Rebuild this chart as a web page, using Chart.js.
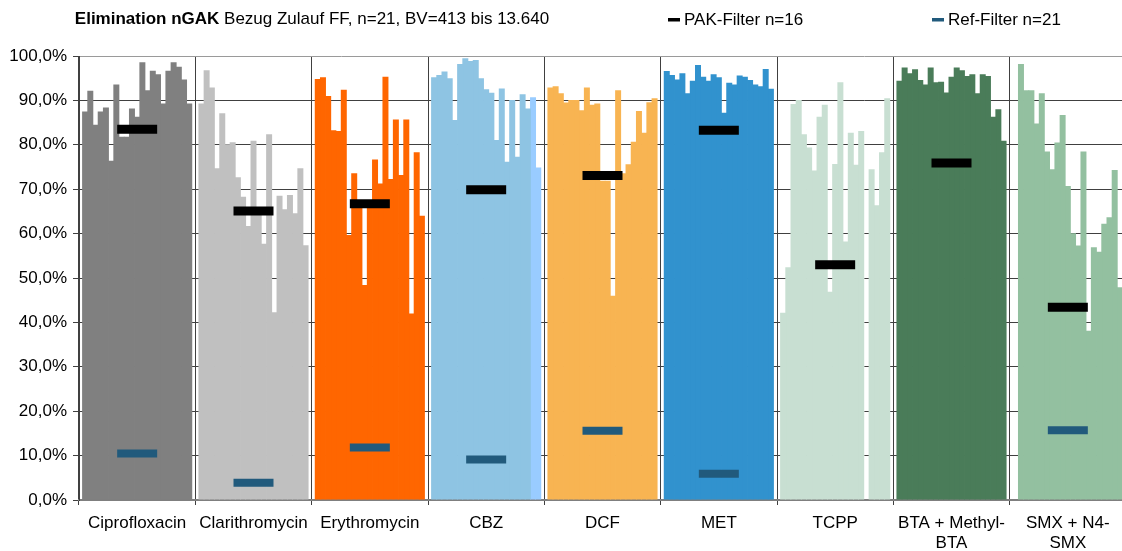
<!DOCTYPE html>
<html lang="de">
<head>
    <meta charset="UTF-8">
    <title>Elimination nGAK</title>
    <script src="https://cdn.jsdelivr.net/npm/chart.js@4/dist/chart.umd.min.js"></script>
    <style>
        html, body { margin: 0; padding: 0; background: #fff; overflow: hidden; }
        canvas { display: block; }
    </style>
</head>
<body>
    <canvas id="chart" width="1126" height="551"></canvas>
    <script>
        // categories (x axis)
        const labels = ["Ciprofloxacin", "Clarithromycin", "Erythromycin", "CBZ", "DCF", "MET", "TCPP",
                        ["BTA + Methyl-", "BTA"], ["SMX + N4-", "SMX"]];

        // 21 single samples per substance, elimination in %
        const cipro = [87.5, 92.2, 84.5, 87.5, 88.4, 76.4, 93.6, 81.8, 81.8, 88.2, 86.3, 98.6, 92.3, 96.7, 95.9, 89.3, 96.7, 98.6, 97.6, 94.7, 89.3];
        const clari = [89.3, 96.8, 92.9, 74.7, 87.1, 80.1, 80.6, 72.7, 68.3, 61.7, 80.9, 65.0, 57.7, 82.4, 42.3, 68.5, 65.5, 68.7, 64.6, 74.7, 57.4];
        const ery   = [94.8, 95.2, 91.0, 83.3, 83.1, 92.4, 59.7, 73.6, 66.5, 48.4, 67.0, 76.7, 71.3, 95.3, 72.3, 85.7, 73.2, 85.7, 42.0, 78.3, 64.0];
        const cbz   = [95.2, 95.7, 96.5, 95.0, 85.6, 98.2, 99.5, 98.9, 99.1, 95.0, 92.5, 91.7, 81.1, 92.7, 76.2, 90.1, 77.3, 91.4, 88.2, 90.7, 74.9];
        const dcf   = [92.9, 93.2, 91.6, 89.5, 90.1, 90.1, 87.8, 92.9, 89.0, 89.3, 71.9, 71.9, 46.0, 92.3, 73.6, 75.6, 80.7, 87.6, 82.7, 89.6, 90.5];
        const met   = [96.6, 95.7, 94.7, 96.1, 91.6, 94.4, 98.0, 95.3, 94.4, 95.9, 95.2, 87.2, 94.0, 93.6, 95.6, 95.3, 94.6, 93.6, 93.2, 97.1, 92.6];
        const tcpp  = [42.2, 52.4, 89.2, 90.1, 82.4, 79.4, 74.2, 86.3, 89.0, 46.9, 75.7, 94.1, 58.2, 82.7, 75.5, 83.1, null, 74.5, 66.4, 78.3, 90.5];
        const bta   = [94.4, 97.4, 96.1, 97.0, 94.6, 93.6, 97.4, 94.1, 94.2, 91.8, 95.3, 97.4, 96.8, 95.5, 95.9, 91.6, 95.9, 95.5, 86.3, 88.0, 80.9];
        const smx   = [null, 98.2, 92.3, 92.3, 84.8, 91.6, 78.5, 74.5, 80.5, 86.7, 70.7, 60.1, 57.3, 78.5, 38.1, 56.9, 55.9, 62.2, 63.7, 74.3, 47.9];

        // means of the two filters
        const pak = [83.5, 65.1, 66.7, 69.9, 73.1, 83.3, 53.0, 75.9, 43.4];
        const ref = [10.5, 3.9, 11.8, 9.1, 15.6, 5.9, null, null, 15.7];

        const colors = ["#808080", "#c0c0c0", "#ff6600", "#8ec4e3", "#f8b452", "#3192ce", "#c8dfd2", "#4a7c59", "#93c0a0"];
        const cbzTail = "#99ccff";

        const series = [cipro, clari, ery, cbz, dcf, met, tcpp, bta, smx];
        const font = "'Liberation Sans', Arial, sans-serif";

        // one bar dataset per sample number, one value per substance
        let datasets = [];
        for (let i = 0; i < 21; i++) {
            datasets.push({
                type: "bar",
                label: "Probe " + (i + 1),
                data: series.map(s => s[i]),
                backgroundColor: colors.map((c, k) => (k === 3 && i >= 19) ? cbzTail : c),
                borderWidth: 0,
                barPercentage: 1.15,   // slight overlap, no hairline gaps
                categoryPercentage: 0.94,
                inflateAmount: 0,
                order: 2
            });
        }
        datasets.push({
            type: "line", label: "PAK-Filter n=16", data: pak, showLine: false,
            pointStyle: "line", pointRadius: 20, pointBorderWidth: 9,
            pointBorderColor: "#000000", borderColor: "#000000", order: 0
        });
        datasets.push({
            type: "line", label: "Ref-Filter n=21", data: ref, showLine: false,
            pointStyle: "line", pointRadius: 20, pointBorderWidth: 8,
            pointBorderColor: "#215a7c", borderColor: "#215a7c", order: 1
        });

        // title with bold start + legend at the top
        const header = {
            id: "header",
            afterDraw(chart) {
                const ctx = chart.ctx;
                ctx.save();
                ctx.textBaseline = "middle";
                ctx.fillStyle = "#000";
                ctx.font = "bold 17px " + font;
                const boldPart = "Elimination nGAK";
                const restPart = " Bezug Zulauf FF, n=21, BV=413 bis 13.640";
                const w1 = ctx.measureText(boldPart).width;
                ctx.font = "17px " + font;
                const w2 = ctx.measureText(restPart).width;
                let x = 312 - (w1 + w2) / 2;
                ctx.font = "bold 17px " + font;
                ctx.fillText(boldPart, x, 19);
                ctx.font = "17px " + font;
                ctx.fillText(restPart, x + w1, 19);

                const items = [[668, datasets[21]], [932, datasets[22]]];
                items.forEach(([lx, ds]) => {
                    ctx.fillStyle = ds.pointBorderColor;
                    ctx.fillRect(lx, 18, 12, 3.5);
                    ctx.fillStyle = "#000";
                    ctx.fillText(ds.label, lx + 16, 20);
                });
                ctx.restore();
            }
        };

        new Chart("chart", {
            data: { labels: labels, datasets: datasets },
            plugins: [header],
            options: {
                responsive: false,
                animation: false,
                events: [],
                layout: { autoPadding: false, padding: { top: 56, left: 0, right: 0, bottom: 0 } },
                plugins: {
                    legend: { display: false },
                    title: { display: false },
                    tooltip: { enabled: false }
                },
                scales: {
                    x: {
                        offset: true,
                        grid: { color: "#404040", offset: true, tickLength: 5, tickColor: "#404040" },
                        border: { color: "#7f7f7f", width: 2 },
                        ticks: { font: { family: font, size: 17 }, color: "#000", maxRotation: 0, autoSkip: false, padding: 8 },
                        afterFit: s => { s.height = 51; s.paddingLeft = 0; s.paddingRight = 0; }
                    },
                    y: {
                        min: 0,
                        max: 100,
                        ticks: {
                            stepSize: 10,
                            font: { family: font, size: 17 },
                            color: "#000",
                            padding: 6,
                            callback: v => v.toFixed(1).replace(".", ",") + "%"
                        },
                        grid: {
                            color: c => c.tick && c.tick.value === 100 ? "#9a9a9a" : "#404040",
                            tickLength: 6,
                            tickColor: "#404040"
                        },
                        border: { color: "#404040", width: 1 },
                        afterFit: s => { s.width = 79; }
                    }
                }
            }
        });
    </script>
</body>
</html>
